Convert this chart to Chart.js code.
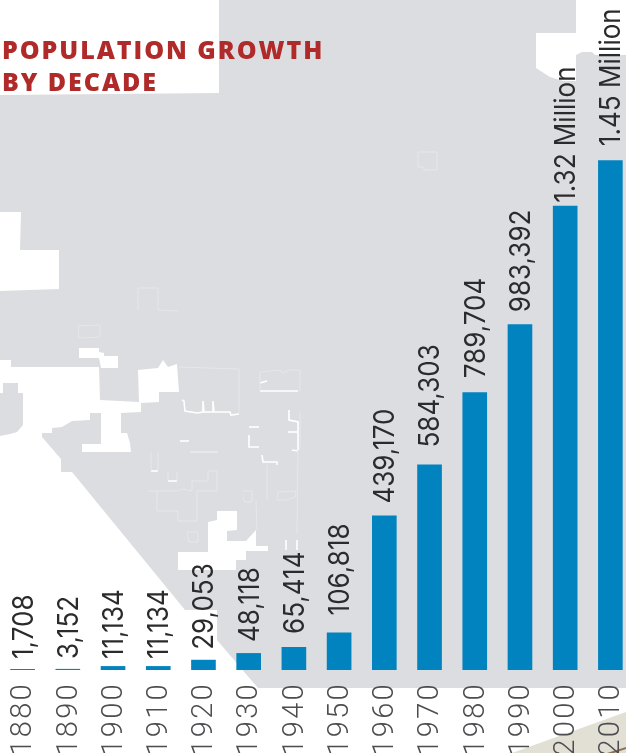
<!DOCTYPE html>
<html><head><meta charset="utf-8">
<style>
html,body{margin:0;padding:0;width:626px;height:753px;overflow:hidden;background:#fff}
#map{position:absolute;left:0;top:0}
#wrap{position:absolute;left:0;top:0;width:633px;height:753px}
</style>
<script src="https://cdn.jsdelivr.net/npm/chart.js@4/dist/chart.umd.min.js"></script>
</head><body>
<svg id="map" width="626" height="753" viewBox="0 0 626 753">
<polygon fill="#dcdde0" points="219,0 576,0 576,33 536,33 536,68 550,77 563,81 576,81 576,55 582,52 592,52 595,55 626,55 626,688 258,688 217,640 217,610 185,610 72,472 61,472 61,459 42,437 0,437 0,291 59,289 59,250 20,250 21,212 0,212 0,95 219,93"/>
<g fill="#fff">
<polygon points="0,360 11,360 11,367 99,367 100,400 139,402 138,370 158,368 163,360 168,367 177,364 179,392 159,392 159,402 141,403 141,412 121,413 121,433 127,433 130,443 131,452 82,452 82,444 101,444 101,413 90,413 90,420 72,421 62,427 52,428 52,433 42,433 42,437 0,437"/>
<polygon points="79,348 99,348 99,352 104,353 104,356 118,356 118,368 101,368 99,358 79,358"/>
<polygon points="178,552 208,552 208,522 217,520 217,511 237,511 237,530 227,531 227,541 246,541 256,530 256,546 268,546 268,551 246,551 246,560 236,560 236,570 178,570"/>
</g>
<polygon fill="#dcdde0" points="0,393 3,393 3,383 18,383 18,393 23,393 23,425 17,432 10,434 0,436"/>
<g fill="none" stroke="#fff" stroke-width="1.6">
<polyline points="182,400 184,401 185,411 197,413 203,412 203,401 204,412 213,412 213,401 214,412 230,412 231,415 239,414"/>
<polyline points="260,391 298,391"/><polyline points="260,383 267,381"/>
<polyline points="289,410 289,420 298,422 298,450"/><polyline points="288,432 298,432"/><polyline points="292,450 298,451"/>
<polyline points="249,427 259,427"/><polyline points="249,435 249,447 259,447"/>
<polyline points="262,455 263,462 277,462 277,465"/><polyline points="180,441 189,441"/>
<polyline points="151,471 158,471"/><polyline points="168,481 177,481"/>
<polyline points="286,540 286,550"/><polyline points="297,540 297,550"/>
</g>
<g fill="none" stroke="#e6e7e9" stroke-width="1">
<polyline points="179,367 239,369 239,413"/>
<polyline points="260,391 260,372 280,370 282,373 290,370 300,370 300,391"/>
<polyline points="300,412 300,450"/><polyline points="298,450 297,533"/><polyline points="267,465 267,500"/>
<polyline points="190,452 218,452" stroke-width="2"/>
<polyline points="151,452 151,471"/><polyline points="158,452 158,471"/>
<polyline points="168,471 168,481"/><polyline points="177,481 177,472"/>
<polyline points="148,491 177,491 182,489 192,491 192,481 208,481 208,471 217,471 217,491 197,491 197,521 178,521 178,511 157,511 157,491"/>
<polyline points="243,491 252,491 252,502 245,502 243,497"/>
<polygon points="278,492 296,491 295,497 287,500 277,500"/>
<polyline points="256,500 257,530"/>
<polyline points="187,532 198,532 198,542 189,542 187,533"/>
<polygon points="78,326 100,325 100,337 79,338"/>
<polyline points="138,310 138,288 158,288 158,310 178,311"/>
<polyline points="418,152 437,152 437,170 424,170 424,167 418,167 418,152"/>
</g>
<polygon fill="#e2dfd5" points="512,753 626,712 626,753"/>
<polygon fill="#8d7355" points="607,753 626,747 626,749 614,753"/>
</svg>
<div id="wrap"><canvas id="c" width="633" height="753"></canvas></div>
<script>
const decades = ['1880','1890','1900','1910','1920','1930','1940','1950','1960','1970','1980','1990','2000','2010'];
const population = [1708,3152,11134,11134,29053,48118,65414,106818,439170,584303,789704,983392,1320000,1450000];
const valueLabels = ['1,708','3,152','11,134','11,134','29,053','48,118','65,414','106,818','439,170','584,303','789,704','983,392','1.32 Million','1.45 Million'];
const labelGaps = [10,10,7,7,10,11,13,17,12,17,14,12,3,14];

const valueLabelPlugin = {
  id:'valueLabels',
  afterDatasetsDraw(chart){
    const ctx = chart.ctx, meta = chart.getDatasetMeta(0);
    ctx.save();
    ctx.font = '28px Inter';
    ctx.fillStyle = '#2b2b2d';
    ctx.textAlign = 'left';
    ctx.textBaseline = 'middle';
    meta.data.forEach((bar,i)=>{
      ctx.save();
      ctx.translate(bar.x+1.5, bar.y-labelGaps[i]);
      ctx.rotate(-Math.PI/2);
      ctx.scale(0.93,1);
      ctx.fillText(valueLabels[i],0,0);
      ctx.restore();
    });
    ctx.restore();
  }
};

const spacingPlugin = {
  id:'letterSpacing',
  beforeDraw(chart){
    const t = chart.titleBlock, x = chart.scales.x, ctx = chart.ctx;
    if(!t._spaced){
      const d = t.draw;
      t.draw = function(){ctx.save();ctx.letterSpacing='1.95px';ctx.translate(2,0);d.apply(t,arguments);ctx.restore();};
      t._spaced = true;
    }
    if(!x._spaced){
      const d = x.drawLabels;
      x.drawLabels = function(){ctx.save();ctx.letterSpacing='2.3px';d.apply(x,arguments);ctx.restore();};
      x._spaced = true;
    }
  }
};

new Chart(document.getElementById('c'),{
  type:'bar',
  data:{labels:decades,datasets:[{data:population,backgroundColor:'#0083bf',barPercentage:0.545,categoryPercentage:1,minBarLength:1,borderWidth:0}]},
  plugins:[spacingPlugin,valueLabelPlugin],
  options:{
    responsive:false,animation:false,
    layout:{padding:0},
    plugins:{
      legend:{display:false},tooltip:{enabled:false},
      title:{display:true,text:['POPULATION GROWTH','BY DECADE'],align:'start',color:'#b02a2a',
        font:{family:'"Open Sans"',size:25,weight:'800',lineHeight:1.28},padding:{top:36,bottom:0}}
    },
    scales:{
      x:{grid:{display:false},border:{display:false},
        afterFit(s){s.height=83;s.paddingLeft=0;s.paddingRight=0;},
        ticks:{autoSkip:false,minRotation:90,maxRotation:90,padding:4,labelOffset:1.5,color:'#4d4d50',font:{family:'Roboto',size:29,weight:'300'}}},
      y:{display:false,min:0,max:1621000,afterFit(s){s.width=0;}}
    }
  }
});
</script>
</body></html>
